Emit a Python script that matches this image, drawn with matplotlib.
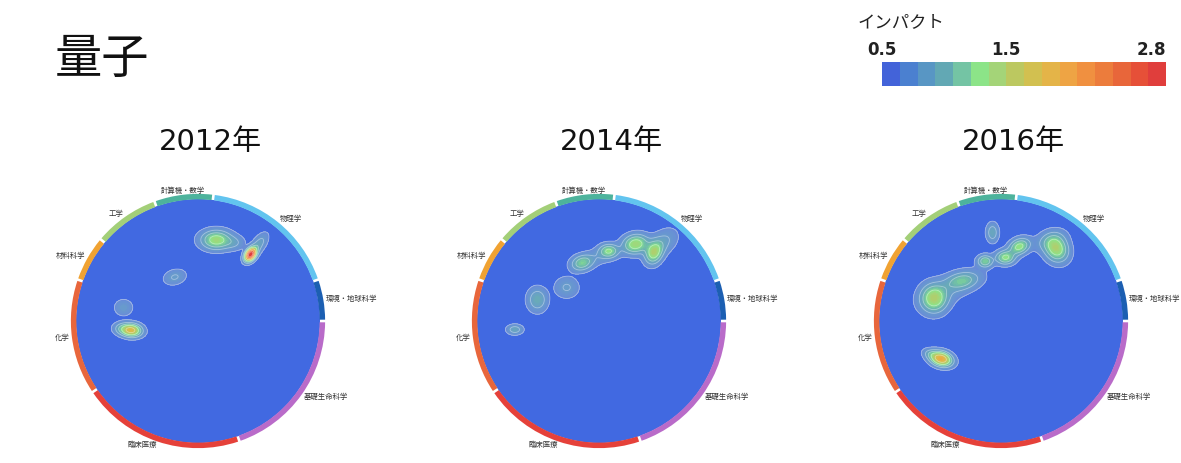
import numpy as np
import matplotlib
matplotlib.use("Agg")
import matplotlib.pyplot as plt
from matplotlib.patches import Circle, Wedge
from matplotlib.colors import ListedColormap, LinearSegmentedColormap, BoundaryNorm, Normalize, to_rgb
from matplotlib.cm import ScalarMappable

JP = ['Noto Sans CJK JP', 'DejaVu Sans']
plt.rcParams['font.family'] = ['DejaVu Sans', 'Noto Sans CJK JP']

# 分野（円周上の区間、度）
fields = ['環境・地球科学', '物理学', '計算機・数学', '工学', '材料科学', '化学', '臨床医療', '基礎生命科学']
field_start = [0, 19, 83, 110, 140, 161, 214, 289]
field_end = [19, 83, 110, 140, 161, 214, 289, 360]
field_colors = ['#1c5fb2', '#62c4ef', '#4db39c', '#a3cf78', '#f0a232', '#e8663c', '#e5413a', '#b96bc9']

years = ['2012年', '2014年', '2016年']

# 論文の集中域: (x, y, 幅x, 幅y, 角度, インパクト)
blobs_2012 = [
    (0.15, 0.665, 0.080, 0.050, 0, 1.38),
    (0.30, 0.640, 0.055, 0.038, 0, 0.72),
    (0.43, 0.545, 0.038, 0.025, 55, 2.80),
    (0.50, 0.630, 0.065, 0.032, 55, 0.85),
    (-0.19, 0.360, 0.058, 0.038, 15, 0.78),
    (-0.61, 0.110, 0.047, 0.042, 0, 0.75),
    (-0.55, -0.075, 0.056, 0.034, -5, 1.80),
    (-0.64, -0.060, 0.042, 0.032, 0, 0.70),
]
blobs_2014 = [
    (0.30, 0.630, 0.068, 0.050, 10, 1.40),
    (0.45, 0.560, 0.044, 0.060, -20, 1.37),
    (0.53, 0.650, 0.080, 0.055, 40, 0.80),
    (0.08, 0.575, 0.050, 0.036, 0, 1.15),
    (0.00, 0.530, 0.110, 0.045, 15, 0.68),
    (-0.14, 0.475, 0.058, 0.040, 15, 1.10),
    (-0.265, 0.275, 0.062, 0.054, 0, 0.78),
    (-0.505, 0.175, 0.052, 0.062, 0, 0.95),
    (-0.69, -0.070, 0.042, 0.026, 0, 0.88),
]
blobs_2016 = [
    (-0.07, 0.725, 0.032, 0.050, 0, 0.90),
    (0.455, 0.590, 0.060, 0.070, 30, 1.40),
    (0.40, 0.660, 0.085, 0.050, 20, 0.78),
    (0.15, 0.610, 0.058, 0.040, 25, 1.30),
    (0.035, 0.520, 0.050, 0.036, 0, 1.25),
    (-0.13, 0.490, 0.040, 0.032, 0, 1.15),
    (-0.32, 0.330, 0.090, 0.045, 10, 1.00),
    (-0.40, 0.270, 0.170, 0.070, 25, 0.68),
    (-0.55, 0.185, 0.070, 0.074, 0, 1.40),
    (-0.49, -0.310, 0.058, 0.037, -15, 1.95),
    (-0.58, -0.270, 0.042, 0.027, -15, 0.75),
]
year_blobs = [blobs_2012, blobs_2014, blobs_2016]

# インパクトの色
impact_colors = ['#4363d9', '#4b80d0', '#5896c4', '#62a8b4', '#74c4a4', '#8ce488',
                 '#a4d478', '#bcc860', '#d2c050', '#e4b448', '#eea444', '#f09040',
                 '#ec7c3c', '#e8663a', '#e65038', '#e03e3c']
impact_min, impact_max = 0.5, 2.8
impact_ticks = [0.5, 1.5, 2.8]

W, H = 1181, 463
fig = plt.figure(figsize=(W / 100, H / 100), dpi=100)
fig.patch.set_facecolor('white')

smooth = LinearSegmentedColormap.from_list('impact', impact_colors)
norm = Normalize(impact_min, impact_max)

# 塗りは細かく、等高線は少なめ
fill_levels = np.append(np.linspace(0.57, 2.8, 46), 3.6)
line_levels = [0.57, 0.75, 0.95, 1.2, 1.6, 2.1, 2.5]
mids = (fill_levels[:-1] + fill_levels[1:]) / 2
band_colors = []
for m in mids:
    c = np.array(to_rgb(smooth(norm(min(m, impact_max)))))
    w = max(0.0, 0.25 - (m - 0.6) * 0.5)
    band_colors.append(tuple(c * (1 - w) + np.array([0.80, 0.83, 0.88]) * w))

g = np.linspace(-1.02, 1.02, 500)
X, Y = np.meshgrid(g, g)


def density(blobs):
    Z = np.full_like(X, impact_min)
    for x0, y0, sx, sy, ang, peak in blobs:
        t = np.deg2rad(ang)
        u = (X - x0) * np.cos(t) + (Y - y0) * np.sin(t)
        v = -(X - x0) * np.sin(t) + (Y - y0) * np.cos(t)
        Z += (peak - impact_min) * np.exp(-0.5 * ((u / sx) ** 2 + (v / sy) ** 2))
    return Z


R = 122
centers = [(198, 321), (599, 321), (1001, 321)]

for (cx, cy), year, blobs in zip(centers, years, year_blobs):
    ax = fig.add_axes([(cx - 1.6 * R) / W, (H - cy - 1.3 * R) / H, 3.2 * R / W, 2.6 * R / H])
    ax.set_xlim(-1.6, 1.6)
    ax.set_ylim(-1.3, 1.3)
    ax.axis('off')

    disk = Circle((0, 0), 1.0, fc='#4169e1', ec='none', zorder=1)
    ax.add_patch(disk)
    Z = density(blobs)
    cs = ax.contourf(X, Y, Z, levels=fill_levels, colors=band_colors, zorder=2)
    cs.set_clip_path(disk)
    cl = ax.contour(X, Y, Z, levels=line_levels, colors='white', linewidths=0.6, alpha=0.4, zorder=3)
    cl.set_clip_path(disk)

    for name, a0, a1, col in zip(fields, field_start, field_end, field_colors):
        ax.add_patch(Wedge((0, 0), 1.042, a0 + 0.6, a1 - 0.6, width=0.045, fc=col, ec='none', zorder=4))
        mid = np.deg2rad((a0 + a1) / 2)
        c = np.cos(mid)
        ha = 'left' if c > 0.2 else ('right' if c < -0.2 else 'center')
        ax.text(1.065 * c, 1.075 * np.sin(mid), name, ha=ha, va='center', fontsize=5.3,
                color='#333333', family=JP, zorder=5)

    fig.text((cx + 12) / W, 1 - 142 / H, year, ha='center', va='center', fontsize=21, color='#111111')

fig.text(55 / W, 1 - 60 / H, '量子', ha='left', va='center', fontsize=34, family=JP, color='#111111')

# カラーバー
cax = fig.add_axes([882 / W, 1 - 86 / H, 284 / W, 24 / H])
blocks = ListedColormap(impact_colors)
bnorm = BoundaryNorm(np.linspace(impact_min, impact_max, len(impact_colors) + 1), len(impact_colors))
cb = fig.colorbar(ScalarMappable(norm=bnorm, cmap=blocks), cax=cax, orientation='horizontal')
cb.outline.set_visible(False)
cb.set_ticks([])
cb.ax.minorticks_off()
cb.ax.tick_params(which='both', length=0)
for i, t in enumerate(impact_ticks):
    frac = (t - impact_min) / (impact_max - impact_min)
    ax_ha = 'right' if i == len(impact_ticks) - 1 else 'center'
    cax.text(frac, 1.5, f'{t:.1f}', transform=cax.transAxes, ha=ax_ha, va='center',
             fontsize=12, fontweight='bold', color='#222222')
fig.text(858 / W, 1 - 22 / H, 'インパクト', ha='left', va='center', fontsize=12.5, family=JP, color='#222222')

fig.savefig('out.png', dpi=100, facecolor='white')
